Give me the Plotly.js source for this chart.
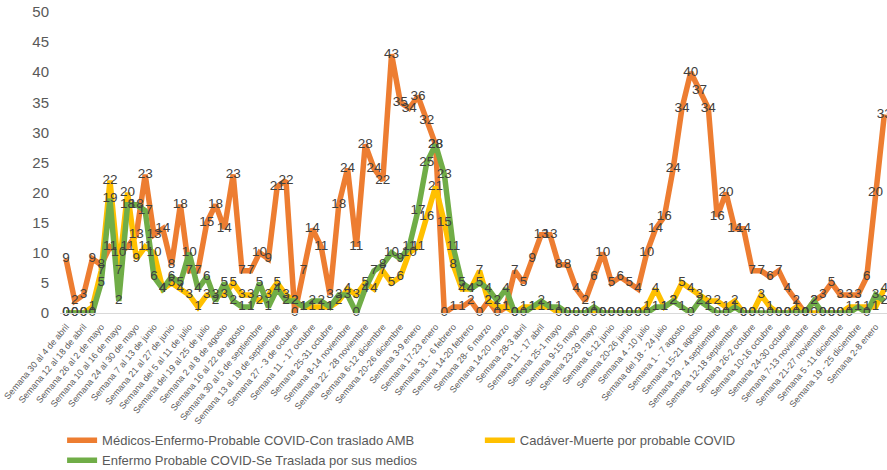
<!DOCTYPE html>
<html>
<head>
<meta charset="utf-8">
<script src="https://cdn.plot.ly/plotly-3.0.1.min.js"></script>
<style>
html,body{margin:0;padding:0;background:#fff;}
#chart{width:887px;height:470px;}
</style>
</head>
<body>
<div id="chart"></div>
<script>
// Series names (legend)
const seriesNames = [
  "Médicos-Enfermo-Probable COVID-Con traslado AMB",
  "Cadáver-Muerte por probable COVID",
  "Enfermo Probable COVID-Se Traslada por sus medios"
];

// Weekly values (94 weeks)
const medicosAMB = [9,2,3,9,8,11,10,11,13,23,13,14,8,18,7,7,15,18,14,23,
  7,7,10,9,21,22,0,7,14,11,3,18,24,11,28,24,22,43,35,34,
  36,32,28,0,1,1,2,0,2,0,1,7,5,9,13,13,8,8,4,2,
  6,10,5,6,5,4,10,14,16,24,34,40,37,34,16,20,14,14,7,7,
  6,7,4,2,0,2,3,5,3,3,3,6,20,33];

const cadaver = [0,0,0,1,7,22,7,20,9,11,10,4,5,4,3,1,3,3,3,5,
  3,3,2,3,5,3,2,1,1,1,1,2,4,3,5,4,7,5,6,10,
  11,16,21,15,8,4,4,7,2,1,1,0,1,1,1,1,0,0,0,0,
  0,0,0,0,0,0,1,4,1,2,5,4,3,2,2,1,2,0,0,3,
  1,0,0,1,0,0,0,0,0,1,1,1,1,4];

const enfermoPropios = [0,0,0,0,5,19,2,18,18,17,6,4,6,5,10,4,6,2,5,2,
  1,1,5,1,4,2,2,1,2,2,1,3,3,0,4,7,8,10,9,11,
  17,25,28,23,11,5,4,5,4,2,4,0,0,1,2,1,1,0,0,0,
  1,0,0,0,0,0,0,1,1,2,1,0,2,1,0,0,1,0,0,0,
  0,0,0,0,0,2,0,0,0,0,1,0,3,2];

// Tick labels (every other week)
const tickLabels = [
  "Semana 30 al 4 de abril","Semana 12 al 18 de abril","Semana 26 al 2 de mayo",
  "Semana 10 al 16 de mayo","Semana 24 al 30 de mayo","Semana 7 al 13 de junio",
  "Semana 21 al 27 de junio","Semana del 5 al 11 de julio","Semana del 19 al 25 de julio",
  "Semana 2 al 8 de agosto","Semana 16 al 22 de agosto","Semana 30 al 5 de septiembre",
  "Semana 13 al 19 de septiembre","Semana 27 - 3 de octubre","Semana 11 - 17 octubre",
  "Semana 25-31 octubre","Semana 8-14 noviembre","Semana 22 - 28 noviembre",
  "Semana 6-12 diciembre","Semana 20-26 diciembre","Semana 3-9 enero",
  "Semana 17-23 enero","Semana 31 - 6 febrero","Semana 14-20 febrero",
  "Semana 28- 6 marzo","Semana 14-20 marzo","Semana 28-3 abril",
  "Semana 11 - 17 abril","Semana 25-1 mayo","Semana 9-15 mayo",
  "Semana 23-29 mayo","Semana 6-12 junio","Semana 20-26 junio",
  "Semana 4 -10 julio","Semana del 18 - 24 julio","Semana 1 - 7 agosto",
  "Semana 15-21 agosto","Semana 29 - 4 septiembre","Semana 12-18 septiembre",
  "Semana 26-2 octubre","Semana 10-16 octubre","Semana 24-30 octubre",
  "Semana 7-13 noviembre","Semana 21-27 noviembre","Semana 5 -11 diciembre",
  "Semana 19 - 25 diciembre","Semana 2-8 enero"
];

const colors = ["#ED7D31", "#FFC000", "#70AD47"];
const series = [medicosAMB, cadaver, enfermoPropios];
const legendOf = ["legend", "legend2", "legend"];

const weeks = medicosAMB.map((_, i) => i);
const tickVals = tickLabels.map((_, i) => i * 2);

const FONT = "Liberation Sans, Arial, sans-serif";

const traces = [];
series.forEach((vals, k) => {
  traces.push({
    x: weeks, y: vals, type: "scatter", mode: "lines",
    name: seriesNames[k], legend: legendOf[k],
    line: {color: colors[k], width: 5.5},
    hoverinfo: "skip"
  });
});
series.forEach((vals, k) => {
  traces.push({
    x: weeks, y: vals, type: "scatter", mode: "text",
    text: vals.map(String), textposition: "middle center",
    textfont: {family: FONT, size: 13.5, color: "#404040"},
    showlegend: false, hoverinfo: "skip", cliponaxis: false
  });
});

const legendFont = {family: FONT, size: 13, color: "#595959"};

const layout = {
  width: 887, height: 470,
  margin: {l: 60, r: 0, t: 12, b: 157, autoexpand: false},
  paper_bgcolor: "#fff", plot_bgcolor: "#fff",
  showlegend: true,
  legend: {
    orientation: "v", xref: "container", yref: "container",
    x: 0.07, y: 0.095, xanchor: "left", yanchor: "top",
    font: legendFont, tracegroupgap: 0, itemwidth: 30, traceorder: "normal"
  },
  legend2: {
    orientation: "v", xref: "container", yref: "container",
    x: 0.541, y: 0.095, xanchor: "left", yanchor: "top",
    font: legendFont, itemwidth: 30
  },
  xaxis: {
    range: [-0.68, 93.3], automargin: false,
    tickmode: "array", tickvals: tickVals, ticktext: tickLabels,
    tickangle: -50, ticklabeloverflow: "allow",
    tickfont: {family: FONT, size: 9, color: "#595959"},
    showgrid: false, zeroline: false,
    showline: true, linecolor: "#D9D9D9", linewidth: 1,
    ticks: "", ticklabelstandoff: 4, fixedrange: true
  },
  yaxis: {
    range: [0, 50], dtick: 5, tick0: 0, automargin: false,
    tickfont: {family: FONT, size: 15, color: "#595959"},
    showgrid: false, zeroline: false, showline: false,
    ticks: "", ticklabelstandoff: 10, fixedrange: true
  }
};

Plotly.newPlot("chart", traces, layout, {displayModeBar: false, staticPlot: true});
</script>
</body>
</html>
